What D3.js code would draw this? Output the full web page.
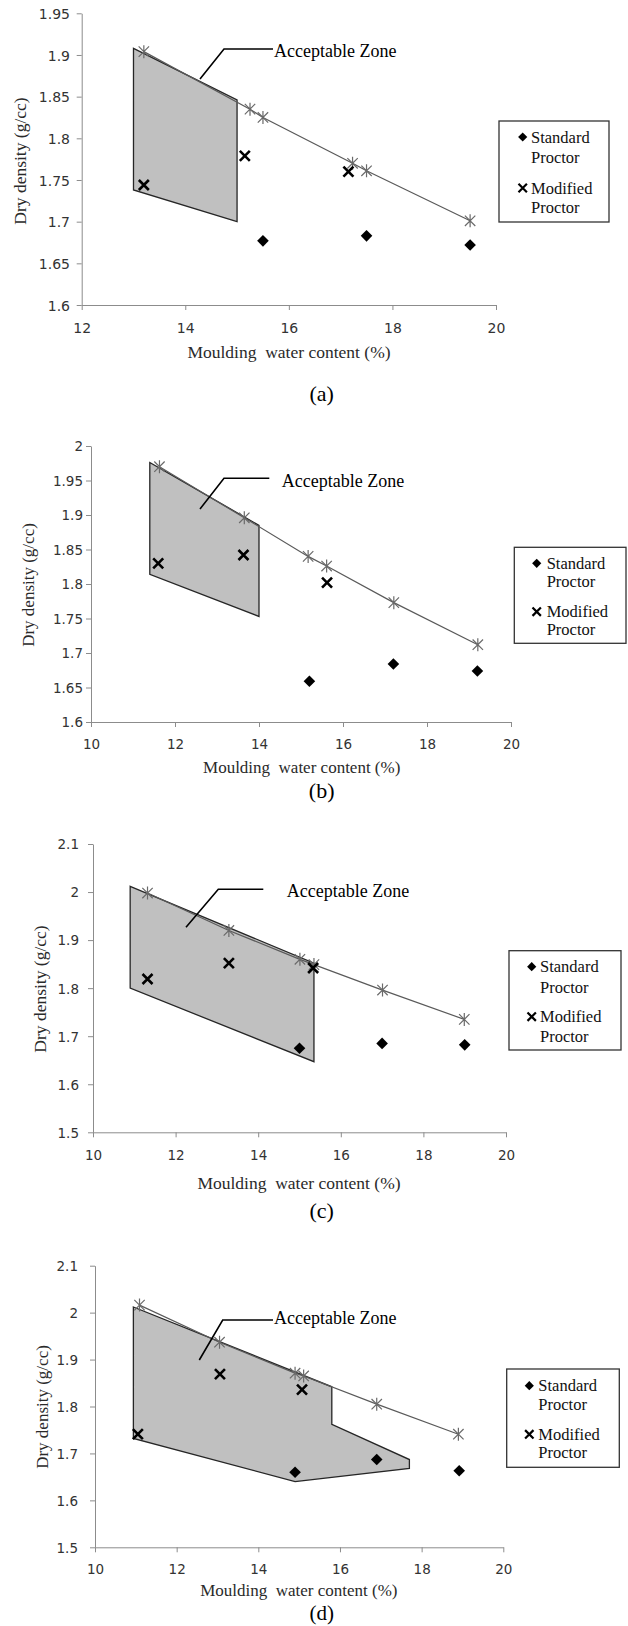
<!DOCTYPE html>
<html>
<head>
<meta charset="utf-8">
<script src="https://cdn.jsdelivr.net/npm/d3@7"></script>
<style>
  body { margin: 0; background: #fff; }
  svg { display: block; }
</style>
</head>
<body>
<svg id="fig" width="628" height="1626"></svg>
<script>
// ---- data: moulding water content (%) vs dry density (g/cc) ----
const panelLabels = ["(a)", "(b)", "(c)", "(d)"];
const seriesNames = ["Standard Proctor", "Modified Proctor"];
const zoneLabel = "Acceptable Zone";

const xTicksA = [12, 14, 16, 18, 20];
const xTicksBCD = [10, 12, 14, 16, 18, 20];
const yTicksA = [1.6, 1.65, 1.7, 1.75, 1.8, 1.85, 1.9, 1.95];
const yTicksB = [1.6, 1.65, 1.7, 1.75, 1.8, 1.85, 1.9, 1.95, 2.0];
const yTicksCD = [1.5, 1.6, 1.7, 1.8, 1.9, 2.0, 2.1];

// (a)
const standardA = [[15.5, 1.677], [17.5, 1.683], [19.5, 1.672]];
const modifiedA = [[13.2, 1.744], [15.15, 1.779], [17.15, 1.760]];
const upperA = [[13.2, 1.904], [15.25, 1.835], [15.5, 1.825], [17.23, 1.770], [17.5, 1.761], [19.5, 1.701]];
const zoneA = [[13.0, 1.908], [15.0, 1.846], [15.0, 1.700], [13.0, 1.738]];

// (b)
const standardB = [[15.2, 1.659], [17.2, 1.684], [19.2, 1.674]];
const modifiedB = [[11.6, 1.830], [13.63, 1.842], [15.62, 1.802]];
const upperB = [[11.63, 1.970], [13.65, 1.896], [15.17, 1.840], [15.61, 1.826], [17.21, 1.773], [19.21, 1.712]];
const zoneB = [[11.4, 1.976], [14.0, 1.885], [14.0, 1.753], [11.4, 1.814]];

// (c)
const standardC = [[15.0, 1.675], [17.0, 1.685], [19.0, 1.682]];
const modifiedC = [[11.32, 1.819], [13.29, 1.852], [15.33, 1.842]];
const upperC = [[11.32, 1.998], [13.29, 1.920], [15.01, 1.860], [15.35, 1.849], [17.01, 1.796], [18.99, 1.735]];
const zoneC = [[10.9, 2.012], [15.35, 1.852], [15.35, 1.647], [10.9, 1.800]];

// (d)
const standardD = [[14.9, 1.660], [16.9, 1.687], [18.92, 1.663]];
const modifiedD = [[11.05, 1.741], [13.06, 1.869], [15.07, 1.836]];
const upperD = [[11.09, 2.016], [13.05, 1.937], [14.9, 1.871], [15.11, 1.865], [16.9, 1.805], [18.9, 1.741]];
const zoneD = [[10.94, 2.012], [15.8, 1.842], [15.8, 1.762], [17.7, 1.687], [17.7, 1.668], [14.9, 1.640], [10.94, 1.732]];

// ---- panel frames (pixel layout) ----
const frames = [
  { xr: [81.7, 496], yr: [305, 13.3], xd: [12, 20], yd: [1.6, 1.95], tickFont: 14,
    yLabelRight: 70, xLabelY: 328, xTitle: [289, 352], yTitle: [20, 161], caption: [321.7, 393], titleFont: 17.5, captionFont: 22,
    leader: [[200, 79], [224, 49], [273, 49]], zoneText: [274, 51],
    legend: { box: [499, 121, 609, 222], mx: 522.7, tx: 531, ys: [137, 157, 188, 207] } },
  { xr: [91, 511], yr: [722, 446], xd: [10, 20], yd: [1.6, 2.0], tickFont: 13.5,
    yLabelRight: 83, xLabelY: 744, xTitle: [301.7, 766.7], yTitle: [28, 585], caption: [321.7, 790], titleFont: 17, captionFont: 22,
    leader: [[200, 509], [224, 478.3], [269.3, 478.3]], zoneText: [281.7, 480.7],
    legend: { box: [514.3, 547.3, 626, 643.3], mx: 536.7, tx: 546.7, ys: [563.3, 581.7, 611.7, 629.3] } },
  { xr: [93, 506], yr: [1132.3, 844], xd: [10, 20], yd: [1.5, 2.1], tickFont: 13.5,
    yLabelRight: 79, xLabelY: 1155, xTitle: [299, 1183], yTitle: [40, 989], caption: [321.7, 1210], titleFont: 17.5, captionFont: 22,
    leader: [[186, 927.3], [218.3, 889.3], [263.3, 889.3]], zoneText: [286.7, 890.7],
    legend: { box: [509, 950.7, 621, 1050], mx: 531.7, tx: 540, ys: [966.7, 987.3, 1016.7, 1036.7] } },
  { xr: [95, 503.3], yr: [1547.3, 1265.7], xd: [10, 20], yd: [1.5, 2.1], tickFont: 13.5,
    yLabelRight: 78, xLabelY: 1569.3, xTitle: [298.8, 1590], yTitle: [42, 1407], caption: [321.7, 1612.5], titleFont: 17, captionFont: 21,
    leader: [[199.3, 1360], [222.7, 1320], [273, 1320]], zoneText: [274, 1317.3],
    legend: { box: [506.7, 1369, 619.3, 1467.3], mx: 529.3, tx: 538.3, ys: [1385.7, 1404.3, 1434.3, 1452.7] } }
];

const panelData = [
  { standard: standardA, modified: modifiedA, upper: upperA, zone: zoneA, xTicks: xTicksA, yTicks: yTicksA },
  { standard: standardB, modified: modifiedB, upper: upperB, zone: zoneB, xTicks: xTicksBCD, yTicks: yTicksB },
  { standard: standardC, modified: modifiedC, upper: upperC, zone: zoneC, xTicks: xTicksBCD, yTicks: yTicksCD },
  { standard: standardD, modified: modifiedD, upper: upperD, zone: zoneD, xTicks: xTicksBCD, yTicks: yTicksCD }
];

// ---- drawing ----
const svg = d3.select("#fig");
const serif = "'Liberation Serif','Times New Roman',serif";
const sans = "'DejaVu Sans',Verdana,sans-serif";
const axisGrey = "#8c8c8c";

const diamondPath = r => `M0,${-r}L${r},0L0,${r}L${-r},0Z`;
const crossPath = r => `M${-r},${-r}L${r},${r}M${-r},${r}L${r},${-r}`;
const starPath = r => `M${-r},${-r}L${r},${r}M${-r},${r}L${r},${-r}M0,${-r * 1.25}L0,${r * 1.25}`;

function drawPanel(f, d, label) {
  const x = d3.scaleLinear().domain(f.xd).range(f.xr);
  const y = d3.scaleLinear().domain(f.yd).range(f.yr);
  const g = svg.append("g");

  // acceptable zone
  g.append("path")
    .datum(d.zone)
    .attr("d", d3.line().x(p => x(p[0])).y(p => y(p[1])).curve(d3.curveLinearClosed))
    .attr("fill", "#c0c0c0")
    .attr("stroke", "#262626")
    .attr("stroke-width", 1.3)
    .attr("stroke-linejoin", "miter");

  // axes
  const xAxis = g.append("g")
    .attr("transform", `translate(0,${f.yr[0]})`)
    .call(d3.axisBottom(x).tickValues(d.xTicks).tickSize(5).tickSizeOuter(0).tickFormat(d3.format("d")));
  const yAxis = g.append("g")
    .attr("transform", `translate(${f.xr[0]},0)`)
    .call(d3.axisLeft(y).tickValues(d.yTicks).tickSize(5).tickSizeOuter(0).tickFormat(v => String(+v.toFixed(2))));

  [xAxis, yAxis].forEach(a => {
    a.select(".domain").attr("stroke", axisGrey).attr("stroke-width", 1);
    a.selectAll(".tick line").attr("stroke", axisGrey).attr("stroke-width", 1);
    a.selectAll(".tick text")
      .attr("fill", "#333")
      .style("font-family", sans)
      .style("font-size", f.tickFont + "px");
  });
  xAxis.selectAll(".tick text").attr("y", f.xLabelY - f.yr[0]).attr("dy", "0.36em");
  yAxis.selectAll(".tick text").attr("x", f.yLabelRight - f.xr[0]).attr("dy", "0.36em");

  // upper line with star markers
  g.append("path")
    .datum(d.upper)
    .attr("d", d3.line().x(p => x(p[0])).y(p => y(p[1])))
    .attr("fill", "none")
    .attr("stroke", "#5a5a5a")
    .attr("stroke-width", 1.2);
  g.selectAll(".star").data(d.upper).join("path")
    .attr("class", "star")
    .attr("transform", p => `translate(${x(p[0])},${y(p[1])})`)
    .attr("d", starPath(5.2))
    .attr("fill", "none")
    .attr("stroke", "#6a6a6a")
    .attr("stroke-width", 1.2);

  // standard proctor
  g.selectAll(".std").data(d.standard).join("path")
    .attr("class", "std")
    .attr("transform", p => `translate(${x(p[0])},${y(p[1])})`)
    .attr("d", diamondPath(5.8))
    .attr("fill", "#000");

  // modified proctor
  g.selectAll(".mod").data(d.modified).join("path")
    .attr("class", "mod")
    .attr("transform", p => `translate(${x(p[0])},${y(p[1])})`)
    .attr("d", crossPath(5))
    .attr("fill", "none")
    .attr("stroke", "#000")
    .attr("stroke-width", 2.6);

  // zone label with leader
  g.append("path")
    .attr("d", d3.line()(f.leader))
    .attr("fill", "none")
    .attr("stroke", "#000")
    .attr("stroke-width", 1.6);
  g.append("text")
    .attr("x", f.zoneText[0]).attr("y", f.zoneText[1]).attr("dy", "0.35em")
    .style("font-family", serif).style("font-size", "18px").attr("fill", "#000")
    .text(zoneLabel);

  // axis titles
  g.append("text")
    .attr("x", f.xTitle[0]).attr("y", f.xTitle[1]).attr("dy", "0.35em")
    .attr("text-anchor", "middle")
    .style("font-family", serif).style("font-size", f.titleFont + "px").style("white-space", "pre")
    .attr("fill", "#2a2a2a")
    .text("Moulding  water content (%)");
  g.append("text")
    .attr("transform", `translate(${f.yTitle[0]},${f.yTitle[1]}) rotate(-90)`)
    .attr("dy", "0.35em")
    .attr("text-anchor", "middle")
    .style("font-family", serif).style("font-size", f.titleFont + "px")
    .attr("fill", "#2a2a2a")
    .text("Dry density (g/cc)");

  // legend
  const L = f.legend;
  g.append("rect")
    .attr("x", L.box[0]).attr("y", L.box[1])
    .attr("width", L.box[2] - L.box[0]).attr("height", L.box[3] - L.box[1])
    .attr("fill", "#fff").attr("stroke", "#333").attr("stroke-width", 1.3);
  g.append("path")
    .attr("transform", `translate(${L.mx},${L.ys[0]})`)
    .attr("d", diamondPath(4.6)).attr("fill", "#000");
  g.append("path")
    .attr("transform", `translate(${L.mx},${L.ys[2]})`)
    .attr("d", crossPath(4.2)).attr("fill", "none").attr("stroke", "#000").attr("stroke-width", 2.2);
  const legendLines = [
    seriesNames[0].split(" ")[0], seriesNames[0].split(" ")[1],
    seriesNames[1].split(" ")[0], seriesNames[1].split(" ")[1]
  ];
  legendLines.forEach((t, i) => {
    g.append("text")
      .attr("x", L.tx).attr("y", L.ys[i]).attr("dy", "0.35em")
      .style("font-family", serif).style("font-size", "16.5px")
      .attr("fill", "#111")
      .text(t);
  });

  // caption
  g.append("text")
    .attr("x", f.caption[0]).attr("y", f.caption[1]).attr("dy", "0.35em")
    .attr("text-anchor", "middle")
    .style("font-family", serif).style("font-size", f.captionFont + "px")
    .attr("fill", "#000")
    .text(label);
}

frames.forEach((f, i) => drawPanel(f, panelData[i], panelLabels[i]));
</script>
</body>
</html>
